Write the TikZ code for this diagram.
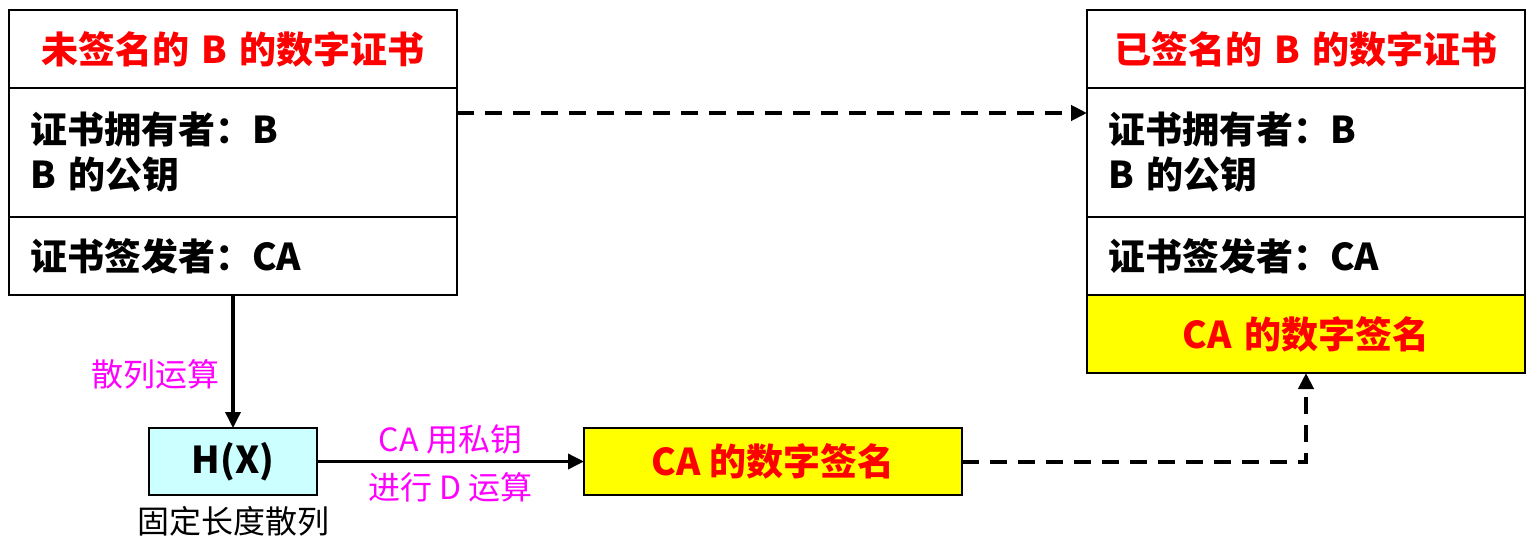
\documentclass[tikz,border=0pt]{standalone}
\usepackage{fontspec}
\setmainfont{Noto Sans CJK SC}
\usetikzlibrary{positioning, arrows.meta}
\definecolor{tred}{RGB}{255,0,0}
\definecolor{tmag}{RGB}{255,0,255}
\definecolor{fyel}{RGB}{255,255,0}
\definecolor{fcya}{RGB}{204,255,255}

\begin{document}
\begin{tikzpicture}
      [x=1pt,y=-1pt
      ,cel/.style={draw,line width=2pt,outer sep=0,inner xsep=21pt,text width=#1,minimum height=78pt,align=left,font=\fontsize{37}{45}\selectfont\bfseries}
      ,hd/.style={cel=#1,align=center,text=tred}
      ,box/.style={draw,line width=2pt,outer sep=0,minimum height=67pt,font=\fontsize{37}{40}\selectfont\bfseries}
      ,lab/.style={text=tmag,font=\fontsize{32}{36}\selectfont}
      ,arr/.style={line width=3.5pt,-{Triangle[length=16pt,width=15pt]}}
      ,das/.style={arr,line width=4pt,dash pattern=on 17pt off 11pt}]
        \useasboundingbox (0,0) rectangle (1526,544);
        % unsigned certificate
        \node[hd=406pt,anchor=north west] (lt) at (9,10) {未签名的 B 的数字证书};
        \node[cel=406pt,minimum height=129pt,below=0pt of lt] (lb) {证书拥有者：B\\B 的公钥};
        \node[cel=406pt,below=0pt of lb] (li) {证书签发者：CA};
        % signed certificate
        \node[hd=396pt,anchor=north west] (rt) at (1087,10) {已签名的 B 的数字证书};
        \node[cel=396pt,minimum height=129pt,below=0pt of rt] (rb) {证书拥有者：B\\B 的公钥};
        \node[cel=396pt,below=0pt of rb] (ri) {证书签发者：CA};
        \node[hd=396pt,fill=fyel,below=0pt of ri] (rs) {CA 的数字签名};
        % hash and signature
        \node[box,fill=fcya,minimum width=168pt] (hx) at (233,461.5) {H(X)};
        \node[below=8pt of hx,font=\fontsize{32}{36}\selectfont] (hl) {固定长度散列};
        \node[box,fill=fyel,text=tred,minimum width=378pt] (sg) at (773,461.5) {CA 的数字签名};
        \draw[arr] (li) -- node[lab,left=8pt,pos=.6]{散列运算} (hx);
        \draw[arr] (hx) -- node[lab,above=2pt]{CA 用私钥} node[lab,below=6pt]{进行 D 运算} (sg);
        \draw[das] (sg) -| (rs);
        \draw[das] ([yshift=-25pt]lb.north east) -- ([yshift=-25pt]rb.north west);
      \end{tikzpicture}
\end{document}
